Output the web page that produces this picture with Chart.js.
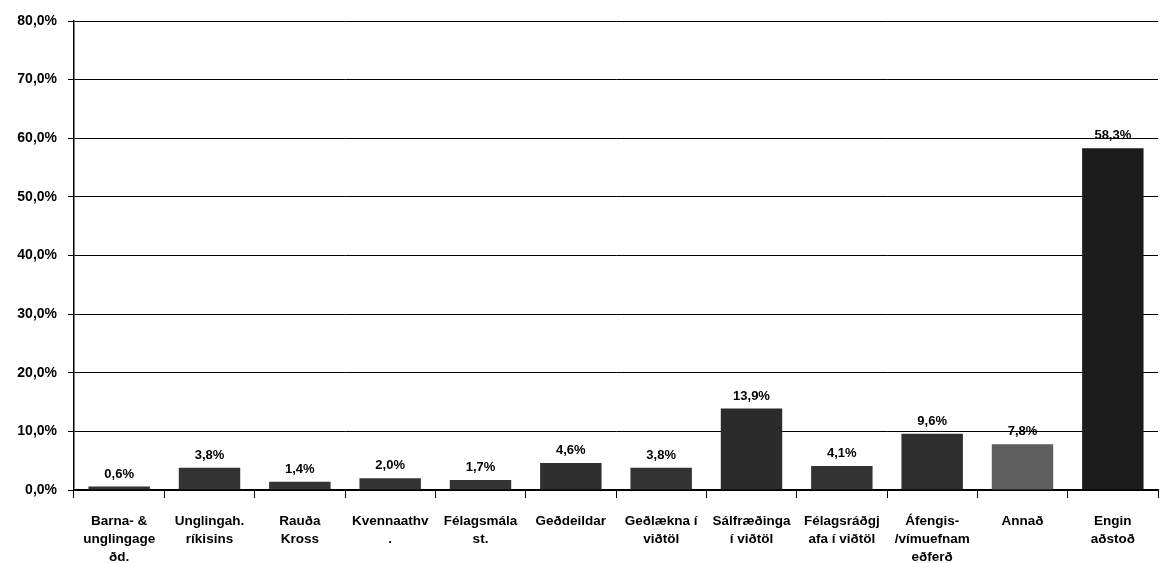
<!DOCTYPE html>
<html lang="is">
<head>
<meta charset="UTF-8">
<title>Aðstoð</title>
<script src="https://cdn.jsdelivr.net/npm/chart.js"></script>
<style>
  html, body { margin: 0; padding: 0; background: #fff; }
  #wrap { width: 1160px; height: 563px; }
</style>
</head>
<body>
<div id="wrap"><canvas id="chart"></canvas></div>
<script>
// categories (multi-line, as in the original)
const categories = [
  ['Barna- &', 'unglingage', 'ðd.'],
  ['Unglingah.', 'ríkisins'],
  ['Rauða', 'Kross'],
  ['Kvennaathv', '.'],
  ['Félagsmála', 'st.'],
  ['Geðdeildar'],
  ['Geðlækna í', 'viðtöl'],
  ['Sálfræðinga', 'í viðtöl'],
  ['Félagsráðgj', 'afa í viðtöl'],
  ['Áfengis-', '/vímuefnam', 'eðferð'],
  ['Annað'],
  ['Engin', 'aðstoð']
];
const values = [0.6, 3.8, 1.4, 2.0, 1.7, 4.6, 3.8, 13.9, 4.1, 9.6, 7.8, 58.3];
const barColors = ['#333', '#333', '#333', '#333', '#333', '#2e2e2e', '#333', '#2b2b2b', '#333', '#2e2e2e', '#5e5e5e', '#1c1c1c'];
const yTicks = [0, 10, 20, 30, 40, 50, 60, 70, 80];

const pct = v => v.toFixed(1).replace('.', ',') + '%';
const FONT = '"Liberation Sans", Arial, sans-serif';

// value labels above the bars
const valueLabels = {
  id: 'valueLabels',
  afterDatasetsDraw(chart) {
    const ctx = chart.ctx;
    const meta = chart.getDatasetMeta(0);
    ctx.save();
    ctx.font = 'bold 13px ' + FONT;
    ctx.fillStyle = '#000';
    ctx.textAlign = 'center';
    ctx.textBaseline = 'bottom';
    meta.data.forEach((bar, i) => {
      ctx.fillText(pct(values[i]), bar.x, bar.y - 6);
    });
    ctx.restore();
  }
};

new Chart(document.getElementById('chart').getContext('2d'), {
  type: 'bar',
  data: {
    labels: categories,
    datasets: [{
      data: values,
      backgroundColor: barColors,
      borderWidth: 0,
      barPercentage: 0.68,
      categoryPercentage: 1
    }]
  },
  options: {
    responsive: true,
    maintainAspectRatio: false,
    animation: false,
    layout: { padding: { top: 21, right: 2, bottom: 0, left: 0 } },
    plugins: {
      legend: { display: false },
      tooltip: { enabled: false }
    },
    scales: {
      x: {
        grid: {
          offset: true,
          drawOnChartArea: false,
          color: '#000',
          tickLength: 8,
          lineWidth: 1
        },
        border: { color: '#000', width: 1.5 },
        ticks: {
          color: '#000',
          maxRotation: 0,
          autoSkip: false,
          padding: 15,
          font: { family: FONT, size: 13.5, weight: 'bold', lineHeight: 1.3 }
        },
        afterFit(axis) { axis.height = 73; }
      },
      y: {
        min: 0,
        max: 80,
        afterBuildTicks(axis) { axis.ticks = yTicks.map(v => ({ value: v })); },
        grid: { color: '#000', lineWidth: 1, tickLength: 6 },
        border: { color: '#000', width: 1.5 },
        ticks: {
          color: '#000',
          padding: 11,
          callback: v => pct(v),
          font: { family: FONT, size: 14, weight: 'bold' }
        },
        afterFit(axis) { axis.width = 74; }
      }
    }
  },
  plugins: [valueLabels]
});
</script>
</body>
</html>
